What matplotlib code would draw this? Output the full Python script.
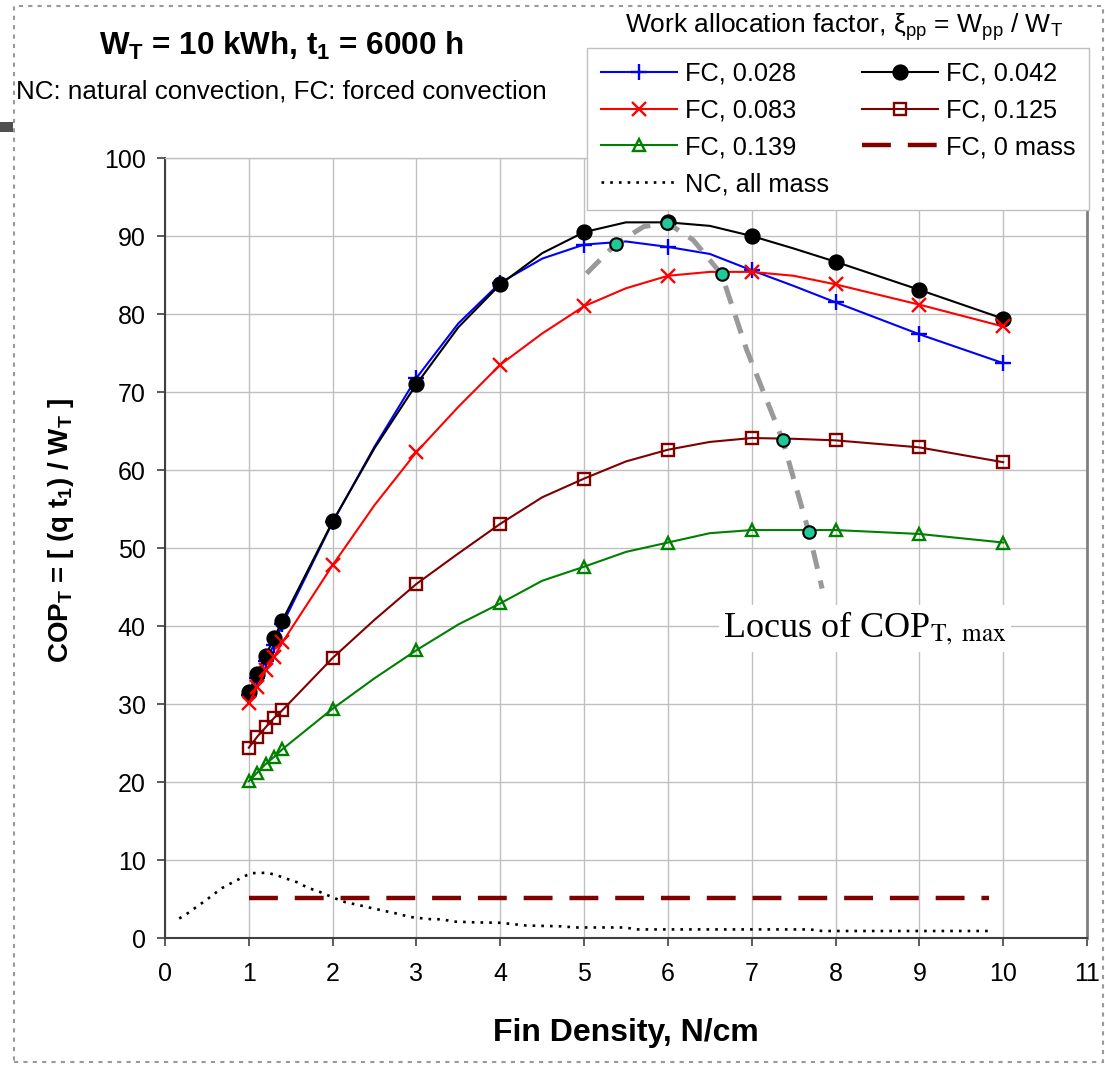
import matplotlib
matplotlib.use('Agg')
import matplotlib.pyplot as plt
from matplotlib.patches import Rectangle

plt.rcParams['font.family'] = ['Liberation Sans', 'DejaVu Sans']
plt.rcParams['mathtext.fontset'] = 'custom'
plt.rcParams['mathtext.rm'] = 'Liberation Sans'
plt.rcParams['mathtext.it'] = 'Liberation Sans:italic'
plt.rcParams['mathtext.bf'] = 'Liberation Sans:bold'

# fin density (N/cm); markers only on the main data points
fin = [1, 1.1, 1.2, 1.3, 1.4, 2, 2.5, 3, 3.5, 4, 4.5, 5, 5.5, 6, 6.5, 7, 7.5, 8, 9, 10]
no_marker = [2.5, 3.5, 4.5, 5.5, 6.5, 7.5]

cop_028 = [31.2, 33.3, 35.5, 37.6, 40.2, 53.3, 63.0, 71.8, 78.8, 84.0, 87.1, 88.9, 89.3, 88.6, 87.7, 85.6, 83.6, 81.5, 77.4, 73.7]
cop_042 = [31.5, 33.9, 36.2, 38.4, 40.7, 53.4, 62.8, 71.0, 78.3, 83.8, 87.8, 90.5, 91.75, 91.75, 91.3, 90.0, 88.4, 86.7, 83.1, 79.4]
cop_083 = [30.1, 32.2, 34.3, 36.0, 37.9, 47.8, 55.5, 62.3, 68.1, 73.5, 77.5, 81.0, 83.3, 84.9, 85.4, 85.4, 84.9, 83.8, 81.2, 78.4]
cop_125 = [24.4, 25.8, 27.0, 28.2, 29.2, 35.9, 40.8, 45.4, 49.3, 53.1, 56.5, 58.9, 61.1, 62.6, 63.6, 64.1, 64.0, 63.8, 62.9, 61.0]
cop_139 = [20.1, 21.2, 22.3, 23.2, 24.2, 29.4, 33.3, 36.9, 40.2, 42.9, 45.8, 47.6, 49.5, 50.7, 51.9, 52.3, 52.3, 52.3, 51.8, 50.7]

zero_x = [1, 9.83]
zero_y = [5.15, 5.15]

nc_x = [0.17, 0.29, 0.39, 0.49, 0.58, 0.68, 0.82, 0.92, 1.02, 1.13, 1.22, 1.32, 1.41, 1.59, 1.70,
        1.85, 2.0, 2.15, 2.32, 2.48, 2.65, 2.78, 2.92, 3.0, 3.18, 3.3, 3.45, 3.72, 4.0, 4.31,
        4.72, 4.9, 5.5, 5.61, 7.69, 7.84, 9.88]
nc_y = [2.5, 3.3, 4.1, 4.85, 5.6, 6.4, 7.2, 7.75, 8.3, 8.35, 8.35, 8.1, 7.75, 7.1, 6.45,
        5.9, 5.2, 4.6, 4.2, 3.8, 3.4, 3.1, 2.7, 2.6, 2.4, 2.4, 2.1, 2.0, 1.95, 1.6,
        1.5, 1.35, 1.35, 1.1, 1.1, 0.9, 0.9]

locus_x = [5.03, 5.38, 5.71, 5.99, 6.30, 6.64, 6.94, 7.37, 7.68, 7.84]
locus_y = [85.2, 89.0, 91.2, 91.7, 89.5, 85.1, 75.4, 63.8, 52.1, 44.8]
max_x = [5.38, 5.99, 6.64, 7.37, 7.68]
max_y = [89.0, 91.7, 85.1, 63.8, 52.1]

W, H = 1105, 1066
fig = plt.figure(figsize=(W / 100, H / 100), dpi=100)
ax = fig.add_axes([165 / W, 1 - 938 / H, (1087 - 165) / W, (938 - 158) / H])

marked = [v not in no_marker for v in fin]
series = [
    ('FC, 0.028', cop_028, '#0000ff', '+', '#0000ff', 12),
    ('FC, 0.042', cop_042, '#000000', 'o', '#000000', 10),
    ('FC, 0.083', cop_083, '#ff0000', 'x', '#ff0000', 10),
    ('FC, 0.125', cop_125, '#800000', 's', 'none', 9),
    ('FC, 0.139', cop_139, '#008000', '^', 'none', 9),
]
handles = {}
for lab, y, c, m, mfc, ms in series:
    h, = ax.plot(fin, y, color=c, lw=1.5, marker=m, markevery=marked, ms=ms,
                 mfc=mfc, mec=c, mew=1.7, label=lab, zorder=3)
    handles[lab] = h

h, = ax.plot(zero_x, zero_y, color='#800000', lw=3.2, dashes=(6.5, 3.8), label='FC, 0 mass', zorder=3)
handles['FC, 0 mass'] = h
h, = ax.plot(nc_x, nc_y, color='black', lw=1.9, dashes=(1, 2.3), label='NC, all mass', zorder=3)
handles['NC, all mass'] = h

ax.plot(locus_x, locus_y, color='#999999', lw=3.6, dashes=(3.8, 2.4), zorder=4)
ax.plot(max_x, max_y, 'o', ms=9, mfc='#20c997', mec='black', mew=1.5, zorder=5)

ax.text(6.66, 38.6, 'Locus of COP$_{\\mathrm{T,\\ max}}$', family='Liberation Serif',
        math_fontfamily='stix', fontsize=26, ha='left', va='baseline',
        bbox=dict(fc='white', ec='none', pad=3), zorder=6)

ax.set_xlim(0, 11)
ax.set_ylim(0, 100)
ax.set_xticks(range(0, 12))
ax.set_yticks(range(0, 101, 10))
ax.grid(True, color='#c0c0c0', lw=1)
ax.set_axisbelow(True)
ax.tick_params(labelsize=18, length=6, width=1.2, color='#404040', direction='out')
ax.tick_params(axis='x', pad=11)
ax.tick_params(axis='y', pad=8)
for s in ['left', 'bottom']:
    ax.spines[s].set_color('#404040')
    ax.spines[s].set_linewidth(1.5)
ax.spines['top'].set_color('#c0c0c0')
ax.spines['top'].set_linewidth(1)
ax.spines['right'].set_color('#808080')
ax.spines['right'].set_linewidth(2)

ax.set_xlabel('Fin Density, N/cm', fontsize=23, fontweight='bold')
ax.xaxis.set_label_coords(0.5, -0.102)
ax.set_ylabel(r'COP$_\mathbf{T}$ = [ (q t$_\mathbf{1}$) / W$_\mathbf{T}$ ]', fontsize=20, fontweight='bold')
ax.yaxis.set_label_coords(-0.097, 0.523)

fig.text(281 / W, 1 - 55 / H, r'W$_\mathbf{T}$ = 10 kWh, t$_\mathbf{1}$ = 6000 h',
         fontsize=22.6, fontweight='bold', ha='center', va='baseline')
fig.text(281 / W, 1 - 99 / H, 'NC: natural convection, FC: forced convection',
         fontsize=18.7, ha='center', va='baseline')
fig.text(844 / W, 1 - 33 / H, 'Work allocation factor, ξ$_{\\rm pp}$ = W$_{\\rm pp}$ / W$_{\\rm T}$',
         fontsize=19, ha='center', va='baseline')

order = ['FC, 0.028', 'FC, 0.083', 'FC, 0.139', 'NC, all mass', 'FC, 0.042', 'FC, 0.125', 'FC, 0 mass']
leg = fig.legend([handles[k] for k in order], order, loc='upper left',
                 bbox_to_anchor=(587 / W, 1 - 48 / H), ncol=2, fontsize=18.3,
                 frameon=True, fancybox=False, edgecolor='#c0c0c0', framealpha=1,
                 borderpad=0.55, labelspacing=0.5, handlelength=3.0, handletextpad=0.3,
                 columnspacing=1.3, borderaxespad=0)
leg.set_zorder(10)

fig.patches.append(Rectangle((14 / W, 1 - 1062 / H), (1103 - 14) / W, (1062 - 6) / H,
                             transform=fig.transFigure, fill=False, ec='#999999',
                             lw=1.5, ls=(0, (2, 2.5))))
fig.patches.append(Rectangle((0, 1 - 132 / H), 13 / W, 10 / H, transform=fig.transFigure,
                             fc='#505050', ec='none'))

fig.savefig('out.png', dpi=100)
